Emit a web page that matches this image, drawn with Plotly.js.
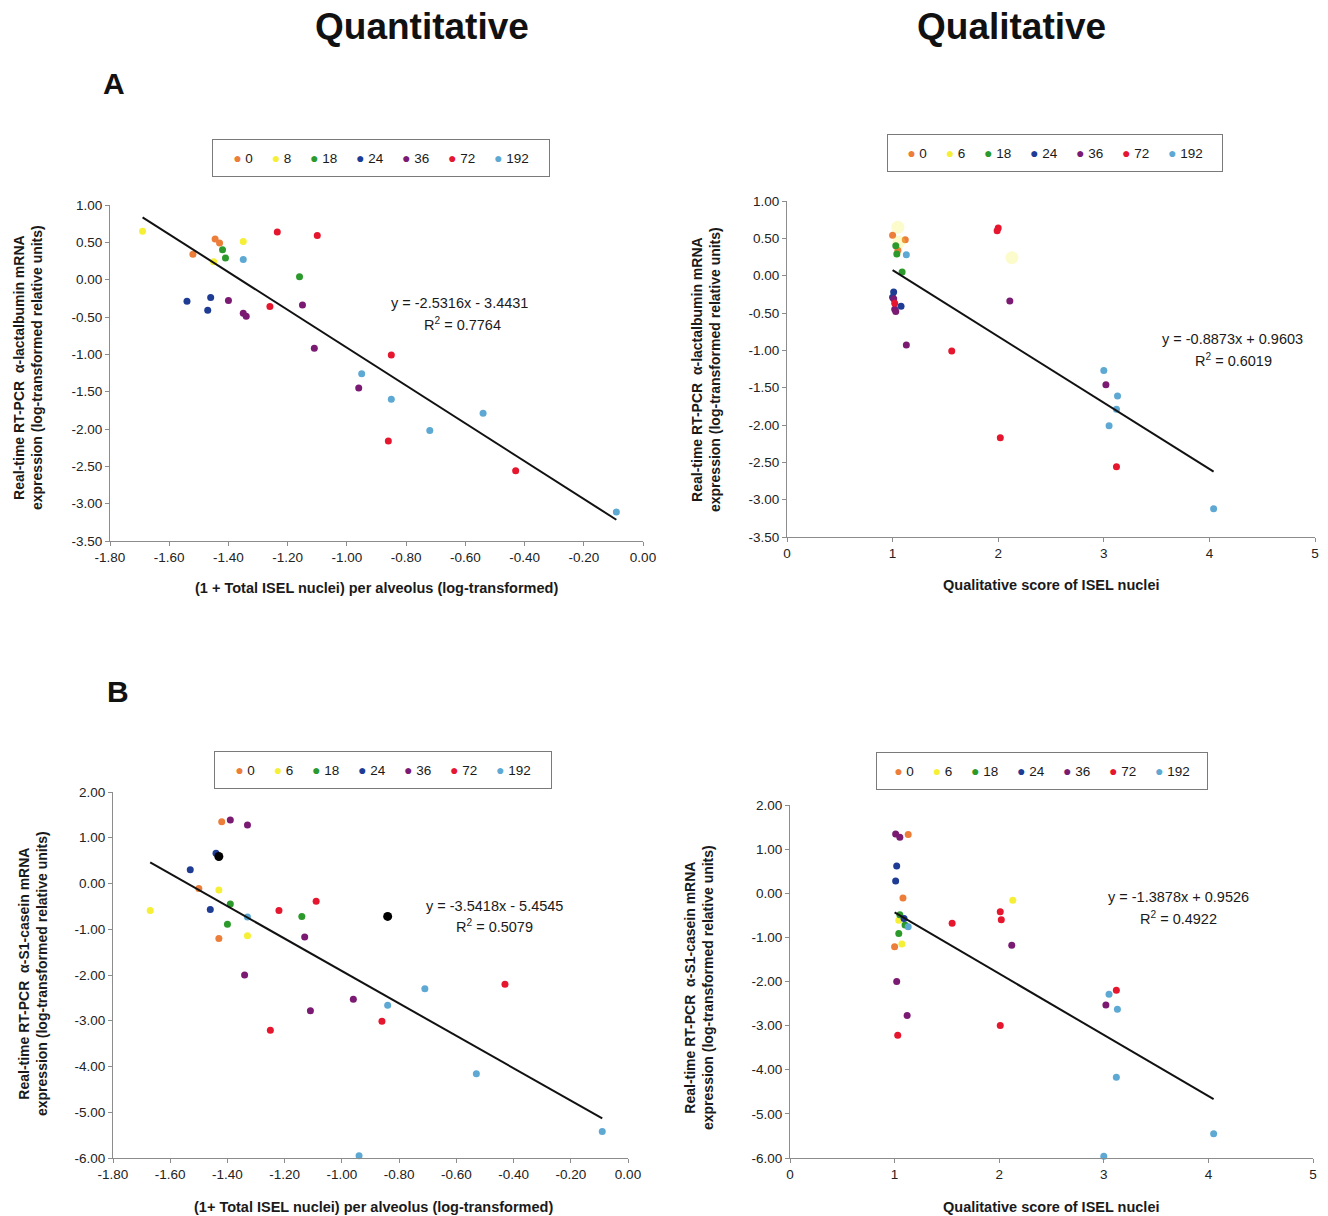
<!DOCTYPE html>
<html>
<head>
<meta charset="utf-8">
<script src="https://cdn.plot.ly/plotly-3.0.1.min.js"></script>
<style>html,body{margin:0;padding:0;background:#fff}#chart{width:1328px;height:1216px}</style>
</head>
<body>
<div id="chart"></div>
<script>
// ---------- DATA ----------
const hoursA = ["0","8","18","24","36","72","192"];
const hoursOther = ["0","6","18","24","36","72","192"];
const groupColors = ["#EC7E3A","#F5F035","#2B9A2B","#1F3C95","#7B1A72","#E5162E","#5EA9D4"];

// Panel A, quantitative (alpha-lactalbumin vs log ISEL nuclei)
const aQuantX = [-1.445,-1.43,-1.52, -1.69,-1.35,-1.45, -1.42,-1.41,-1.16, -1.54,-1.46,-1.47,
  -1.40,-1.35,-1.34,-1.15,-1.11,-0.96, -1.235,-1.10,-1.26,-0.85,-0.86,-0.43, -1.35,-0.95,-0.85,-0.72,-0.54,-0.09];
const aQuantY = [0.545,0.49,0.34, 0.65,0.51,0.24, 0.40,0.29,0.04, -0.29,-0.24,-0.41,
  -0.28,-0.45,-0.49,-0.34,-0.92,-1.45, 0.64,0.59,-0.36,-1.01,-2.16,-2.56, 0.27,-1.26,-1.60,-2.02,-1.79,-3.11];
const aQuantGroup = ["0","0","0","8","8","8","18","18","18","24","24","24",
  "36","36","36","36","36","36","72","72","72","72","72","72","192","192","192","192","192","192"];

// Panel A, qualitative (alpha-lactalbumin vs qualitative score)
const aQualX = [1.00,1.12,1.05, 1.05,1.06,2.13, 1.03,1.04,1.09, 1.01,1.00,1.08,
  1.01,1.02,1.03,2.11,1.13,3.02, 2.00,1.99,1.02,1.56,2.02,3.12, 1.13,3.00,3.13,3.12,3.05,4.04];
const aQualY = [0.54,0.48,0.34, 0.65,0.45,0.24, 0.40,0.29,0.05, -0.22,-0.29,-0.41,
  -0.31,-0.45,-0.48,-0.34,-0.93,-1.46, 0.64,0.60,-0.37,-1.01,-2.17,-2.56, 0.28,-1.27,-1.61,-1.79,-2.01,-3.12];
const aQualGroup = ["0","0","0","6","6","6","18","18","18","24","24","24",
  "36","36","36","36","36","36","72","72","72","72","72","72","192","192","192","192","192","192"];

// Panel B, quantitative (alpha-S1-casein vs log ISEL nuclei)
const bQuantX = [-1.42,-1.50,-1.43, -1.67,-1.43,-1.33, -1.39,-1.40,-1.14, -1.44,-1.53,-1.46,
  -1.39,-1.33,-1.13,-1.34,-1.11,-0.96, -1.22,-1.09,-1.25,-0.86,-0.43, -1.33,-0.84,-0.71,-0.53,-0.09,-0.94];
const bQuantY = [1.35,-0.11,-1.20, -0.59,-0.14,-1.14, -0.45,-0.89,-0.72, 0.66,0.30,-0.57,
  1.39,1.28,-1.17,-2.00,-2.78,-2.53, -0.59,-0.39,-3.21,-3.01,-2.20, -0.73,-2.66,-2.30,-4.16,-5.42,-5.95];
const bQuantGroup = ["0","0","0","6","6","6","18","18","18","24","24","24",
  "36","36","36","36","36","36","72","72","72","72","72","192","192","192","192","192","192"];
const bQuantBlackX = [-1.43,-0.84];
const bQuantBlackY = [0.59,-0.72];

// Panel B, qualitative (alpha-S1-casein vs qualitative score)
const bQualX = [1.13,1.08,1.00, 1.04,1.07,2.13, 1.05,1.10,1.04, 1.02,1.01,1.09,
  1.01,1.05,1.02,1.12,2.12,3.02, 1.55,1.03,2.01,2.02,2.01,3.12, 1.13,3.05,3.13,3.12,4.05,3.00];
const bQualY = [1.33,-0.11,-1.21, -0.61,-1.15,-0.16, -0.49,-0.72,-0.91, 0.62,0.28,-0.57,
  1.34,1.27,-2.00,-2.77,-1.18,-2.53, -0.68,-3.22,-0.42,-0.60,-3.00,-2.20, -0.76,-2.29,-2.63,-4.17,-5.45,-5.96];
const bQualGroup = ["0","0","0","6","6","6","18","18","18","24","24","24",
  "36","36","36","36","36","36","72","72","72","72","72","72","192","192","192","192","192","192"];

// Regression lines (from the printed equations)
const trendSlope = [-2.5316, -0.8873, -3.5418, -1.3878];
const trendIntercept = [-3.4431, 0.9603, -5.4545, 0.9526];
const trendR2 = ["0.7764", "0.6019", "0.5079", "0.4922"];

// Axis ticks
const quantXTicks = [-1.8,-1.6,-1.4,-1.2,-1.0,-0.8,-0.6,-0.4,-0.2,0];
const qualXTicks = [0,1,2,3,4,5];
const aYTicks = [1,0.5,0,-0.5,-1,-1.5,-2,-2.5,-3,-3.5];
const bYTicks = [2,1,0,-1,-2,-3,-4,-5,-6];

// Text
const columnTitles = ["Quantitative", "Qualitative"];
const panelLetters = ["A", "B"];
const yTitleA = "Real-time RT-PCR  α-lactalbumin mRNA<br>expression (log-transformed relative units)";
const yTitleB = "Real-time RT-PCR  α-S1-casein mRNA<br>expression (log-transformed relative units)";
const xTitleQuantA = "(1 + Total ISEL nuclei) per alveolus (log-transformed)";
const xTitleQuantB = "(1+ Total ISEL nuclei) per alveolus (log-transformed)";
const xTitleQual = "Qualitative score of ISEL nuclei";

// ---------- LAYOUT / RENDER ----------
const W = 1328, H = 1216;
const FONT = "Liberation Sans, Arial, Helvetica, sans-serif";
const px = v => v / W;
const py = v => 1 - v / H;

const panels = [
  {n:"", X:aQuantX, Y:aQuantY, G:aQuantGroup, labels:hoursA, xb:[110,643], yb:[205,541],
   xr:[-1.8,0], yr:[-3.5,1], xt:quantXTicks, xdec:2, yt:aYTicks, ghost:{},
   leg:[381,157.5,320], ytitle:yTitleA, ytp:[28,368], xtitle:xTitleQuantA, xtp:[376,588],
   eq:[460,303], r2p:[462,324]},
  {n:"2", X:aQualX, Y:aQualY, G:aQualGroup, labels:hoursOther, xb:[787,1315], yb:[201,537],
   xr:[0,5], yr:[-3.5,1], xt:qualXTicks, xdec:0, yt:aYTicks, ghost:{"6":true},
   leg:[1054.5,153,318], ytitle:yTitleA, ytp:[706,369], xtitle:xTitleQual, xtp:[1051,585],
   eq:[1232,339], r2p:[1233,360]},
  {n:"3", X:bQuantX, Y:bQuantY, G:bQuantGroup, labels:hoursOther, xb:[113,628], yb:[792,1158],
   xr:[-1.8,0], yr:[-6,2], xt:quantXTicks, xdec:2, yt:bYTicks, ghost:{},
   leg:[383,770,320], ytitle:yTitleB, ytp:[33,974], xtitle:xTitleQuantB, xtp:[373,1207],
   eq:[494,906], r2p:[494,926]},
  {n:"4", X:bQualX, Y:bQualY, G:bQualGroup, labels:hoursOther, xb:[790,1313], yb:[805,1158],
   xr:[0,5], yr:[-6,2], xt:qualXTicks, xdec:0, yt:bYTicks, ghost:{},
   leg:[1042,771,314], ytitle:yTitleB, ytp:[699,988], xtitle:xTitleQual, xtp:[1051,1207],
   eq:[1178,897], r2p:[1178,918]}
];

const traces = [];
const layout = {
  width: W, height: H, margin:{l:0,r:0,t:0,b:0},
  paper_bgcolor:"#fff", plot_bgcolor:"#fff", showlegend:false,
  font:{family:FONT, color:"#222"}, annotations:[]
};

function addText(text, x, y, size, opts) {
  layout.annotations.push(Object.assign({
    text, x:px(x), y:py(y), xref:"paper", yref:"paper", showarrow:false,
    xanchor:"center", yanchor:"middle", font:{family:FONT, size, color:"#1a1a1a"}
  }, opts || {}));
}

panels.forEach((p, pi) => {
  const xa = "x" + p.n, ya = "y" + p.n;
  p.labels.forEach((lab, gi) => {
    const xs = [], ys = [];
    p.G.forEach((g, i) => { if (g === lab) { xs.push(p.X[i]); ys.push(p.Y[i]); } });
    const ghost = p.ghost[lab];
    traces.push({
      type:"scatter", mode:"markers", x:xs, y:ys, xaxis:xa, yaxis:ya, name:lab,
      cliponaxis:false, hoverinfo:"x+y+name",
      marker:{color:groupColors[gi], size: ghost ? 13 : 7, opacity: ghost ? 0.25 : 1, line:{width:0}}
    });
  });
  if (pi === 2) {
    traces.push({type:"scatter", mode:"markers", x:bQuantBlackX, y:bQuantBlackY, xaxis:xa, yaxis:ya,
      cliponaxis:false, marker:{color:"#000", size:9}, name:"highlighted", hoverinfo:"x+y"});
  }
  // regression line across observed x range
  const realX = p.X.filter((v, i) => !p.ghost[p.G[i]]);
  const x0 = Math.min(...realX), x1 = Math.max(...realX);
  const s = trendSlope[pi], b = trendIntercept[pi];
  traces.push({type:"scatter", mode:"lines", x:[x0,x1], y:[s*x0+b, s*x1+b], xaxis:xa, yaxis:ya,
    line:{color:"#111", width:2}, hoverinfo:"skip", cliponaxis:false, name:"trend"});

  const axBase = {
    showline:true, linecolor:"#8c8c8c", linewidth:1, ticks:"outside", ticklen:4,
    tickcolor:"#8c8c8c", showgrid:false, zeroline:false, fixedrange:true, automargin:false,
    tickfont:{family:FONT, size:13.5, color:"#222"}, tickmode:"array"
  };
  layout["xaxis" + p.n] = Object.assign({}, axBase, {
    domain:[px(p.xb[0]), px(p.xb[1])], range:p.xr, anchor:ya,
    tickvals:p.xt, ticktext:p.xt.map(v => v.toFixed(p.xdec))
  });
  layout["yaxis" + p.n] = Object.assign({}, axBase, {
    domain:[py(p.yb[1]), py(p.yb[0])], range:p.yr, anchor:xa,
    tickvals:p.yt, ticktext:p.yt.map(v => v.toFixed(2))
  });

  // legend box (annotation built from series labels and colours)
  const gap = "\u00A0".repeat(5);
  const legText = p.labels.map((lab, gi) =>
    `<span style="color:${groupColors[gi]};font-size:14px">●</span>\u00A0${lab}`).join(gap);
  addText(legText, p.leg[0], p.leg[1], 13.5, {
    bordercolor:"#7a7a7a", borderwidth:1, borderpad:8, bgcolor:"#fff",
    width:p.leg[2], height:20, align:"center"
  });

  // axis titles
  addText("<b>" + p.ytitle + "</b>", p.ytp[0], p.ytp[1], 14, {textangle:-90});
  addText("<b>" + p.xtitle + "</b>", p.xtp[0], p.xtp[1], 14.5);

  // equation + R2
  const eq = `y = ${s}x ${b < 0 ? "-" : "+"} ${Math.abs(b)}`;
  addText(eq, p.eq[0], p.eq[1], 14.5);
  addText(`R<sup>2</sup> = ${trendR2[pi]}`, p.r2p[0], p.r2p[1], 14.5);
});

addText("<b>" + columnTitles[0] + "</b>", 422, 27, 37, {font:{family:FONT, size:37, color:"#111"}});
addText("<b>" + columnTitles[1] + "</b>", 1011, 27, 37, {font:{family:FONT, size:37, color:"#111"}});
addText("<b>" + panelLetters[0] + "</b>", 114, 84, 30, {font:{family:FONT, size:30, color:"#111"}});
addText("<b>" + panelLetters[1] + "</b>", 118, 691, 30, {font:{family:FONT, size:30, color:"#111"}});

Plotly.newPlot("chart", traces, layout, {displayModeBar:false, staticPlot:false});
</script>
</body>
</html>
